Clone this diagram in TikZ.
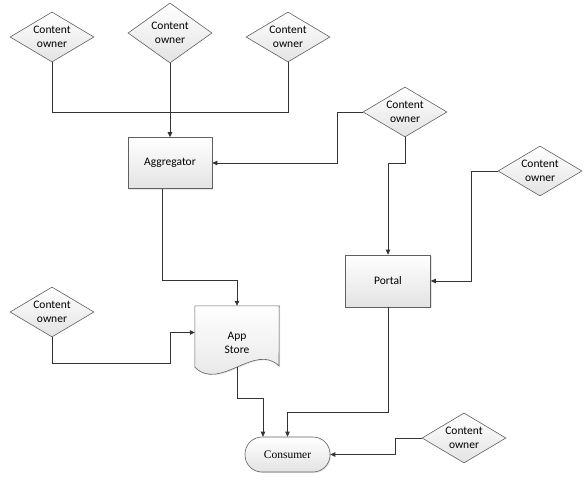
\documentclass[tikz,border=0pt]{standalone}
\usepackage{fontspec}
\setmainfont{Carlito}
\newfontfamily\serifconsumer{Liberation Serif}
\usetikzlibrary{shapes.geometric,arrows.meta,shadows}
\begin{document}
\begin{tikzpicture}[x=1pt,y=-1pt,
  every node/.style={font=\fontsize{11.5}{14}\selectfont, align=center},
  shade/.style={top color=white, bottom color=gray!22, draw=gray!75!black, line width=0.6pt},
  owner/.style={shade, diamond, minimum width=84pt, minimum height=50pt, inner sep=-10pt},
  boxnode/.style={shade, rectangle, minimum width=84pt, minimum height=51pt, drop shadow={opacity=0.2, shadow xshift=1pt, shadow yshift=-1pt}},
  link/.style={draw=black!80, line width=0.75pt},
  arr/.style={link, -{Triangle[length=5pt,width=4.5pt]}}]
\useasboundingbox (0,0) rectangle (588,487);
% nodes
\node[owner] (d1) at (52,37) {Content\\owner};
\node[owner, minimum height=60pt] (d2) at (170,33) {Content\\owner};
\node[owner] (d3) at (288,37) {Content\\owner};
\node[owner] (d4) at (405,112) {Content\\owner};
\node[owner] (d5) at (540,171) {Content\\owner};
\node[owner] (d6) at (52,312) {Content\\owner};
\node[owner] (d7) at (464,438) {Content\\owner};
\node[boxnode] (agg) at (170,163) {Aggregator};
\node[boxnode, minimum width=85pt, minimum height=52pt] (portal) at (388,281) {Portal};
\node[draw=none, minimum width=84pt, minimum height=61pt, inner sep=0pt] (app) at (237,336.5) {};
\fill[gray!40, opacity=0.5] (196,307) -- (280,307) -- (280,367)
  .. controls (256,343) and (221,393) .. (196,368) -- cycle;
\shadedraw[shade] (app.north west) -- (app.north east) -- (279,366)
  .. controls (255,342) and (220,392) .. (app.south west) -- cycle;
\node at ([yshift=-6pt]app.center) {App\\Store};
\node[shade, rounded corners=17pt, minimum width=85pt, minimum height=35pt, font=\serifconsumer\fontsize{11.5}{14}\selectfont, drop shadow={opacity=0.2, shadow xshift=1pt, shadow yshift=-1pt}] (cons) at (287.5,454.5) {Consumer};
% connectors
\draw[link] (d1.south) -- ++(0,50) -| (d3.south);
\draw[arr, line width=1pt] (d2.south) -- (agg.north);
\draw[arr] (d4.west) -- ++(-25,0) |- (agg.east);
\draw[arr] (d4.south) -- ++(0,26) -| (portal.north);
\draw[arr] (d5.west) -- ++(-26,0) |- (portal.east);
\draw[arr] ([xshift=-8pt]agg.south) -- ++(0,92) -| (app.north);
\draw[arr] (d6.south) -- ++(0,26) -- ++(118,0) |- ([yshift=4pt]app.west);
\draw[arr] (app.south) -- ++(0,31) -| ([xshift=-24.5pt]cons.north);
\draw[arr] (portal.south) -- ++(0,105) -| (cons.north);
\draw[arr] (d7.west) -- ++(-26,0) |- (cons.east);
\end{tikzpicture}
\end{document}
